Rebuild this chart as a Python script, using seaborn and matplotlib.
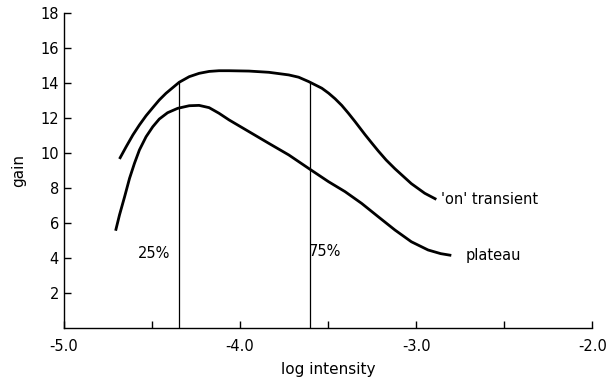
import numpy as np
import pandas as pd
import matplotlib
matplotlib.use("Agg")
import matplotlib.pyplot as plt
import seaborn as sns

# curve values (log intensity, gain)
on_x = [-4.684, -4.646, -4.608, -4.571, -4.533, -4.495, -4.458, -4.42, -4.382, -4.345,
        -4.288, -4.232, -4.175, -4.119, -4.062, -3.949, -3.836, -3.723, -3.667, -3.61,
        -3.535, -3.497, -3.46, -3.422, -3.385, -3.347, -3.29, -3.25, -3.215, -3.17, -3.12,
        -3.027, -2.951, -2.885]
on_y = [9.66, 10.36, 11.03, 11.6, 12.13, 12.59, 13.03, 13.41, 13.73, 14.04,
        14.36, 14.55, 14.66, 14.7, 14.7, 14.68, 14.61, 14.46, 14.33, 14.08,
        13.7, 13.42, 13.1, 12.72, 12.28, 11.8, 11.05, 10.55, 10.12, 9.6, 9.1,
        8.25, 7.7, 7.35]

plat_x = [-4.706, -4.684, -4.655, -4.627, -4.599, -4.571, -4.533, -4.495, -4.458, -4.411,
          -4.354, -4.288, -4.232, -4.175, -4.119, -4.062, -3.949, -3.836, -3.723, -3.61,
          -3.497, -3.403, -3.309, -3.215, -3.12, -3.027, -2.932, -2.86, -2.8]
plat_y = [5.56, 6.46, 7.5, 8.55, 9.41, 10.17, 10.93, 11.5, 11.94, 12.3,
          12.55, 12.7, 12.72, 12.59, 12.27, 11.89, 11.22, 10.55, 9.89, 9.12,
          8.36, 7.79, 7.12, 6.36, 5.6, 4.93, 4.46, 4.25, 4.15]

# 25% / 75% markers
quart_x = [-4.345, -3.605]
quart_top = [14.04, 14.08]
quart_labels = ["25%", "75%"]
quart_label_x = [-4.49, -3.52]
quart_label_y = [4.25, 4.35]

curve_labels = ["'on' transient", "plateau"]
curve_label_x = [-2.86, -2.72]
curve_label_y = [7.35, 4.15]

xticks = [-5.0, -4.0, -3.0, -2.0]
xminor = [-4.5, -3.5, -2.5]
yticks = [2, 4, 6, 8, 10, 12, 14, 16, 18]

sns.set_style("ticks")
plt.rcParams["font.family"] = ["DejaVu Sans"]
plt.rcParams["text.color"] = "black"

df = pd.concat([
    pd.DataFrame({"x": on_x, "y": on_y, "curve": "on"}),
    pd.DataFrame({"x": plat_x, "y": plat_y, "curve": "plateau"}),
])

fig = plt.figure(figsize=(6.08, 3.81), dpi=100)
ax = fig.add_axes([0.105, 0.139, 0.869, 0.827])

sns.lineplot(data=df, x="x", y="y", units="curve", estimator=None, sort=False,
             color="black", linewidth=2.0, ax=ax,
             solid_joinstyle="round", solid_capstyle="butt")

ax.vlines(quart_x, 0, quart_top, color="black", linewidth=0.9)
for lx, ly, t in zip(quart_label_x, quart_label_y, quart_labels):
    ax.text(lx, ly, t, ha="center", va="center", fontsize=10.5, color="black")
for lx, ly, t in zip(curve_label_x, curve_label_y, curve_labels):
    ax.text(lx, ly, t, ha="left", va="center", fontsize=10.5, color="black")

ax.set_xlim(-5.0, -2.0)
ax.set_ylim(0, 18)
ax.set_xticks(xticks)
ax.set_xticklabels([f"{v:.1f}" for v in xticks])
ax.set_xticks(xminor, minor=True)
ax.set_yticks(yticks)
ax.tick_params(axis="both", which="both", direction="in", length=5, width=1,
               labelsize=10.5, colors="black")
ax.tick_params(axis="x", pad=8)

sns.despine(ax=ax)
for s in ["left", "bottom"]:
    ax.spines[s].set_linewidth(1.0)
    ax.spines[s].set_color("black")

ax.set_xlabel("log intensity", fontsize=11, labelpad=6, color="black")
ax.set_ylabel("gain", fontsize=11, labelpad=10, color="black")

fig.savefig("out.png", dpi=100)
